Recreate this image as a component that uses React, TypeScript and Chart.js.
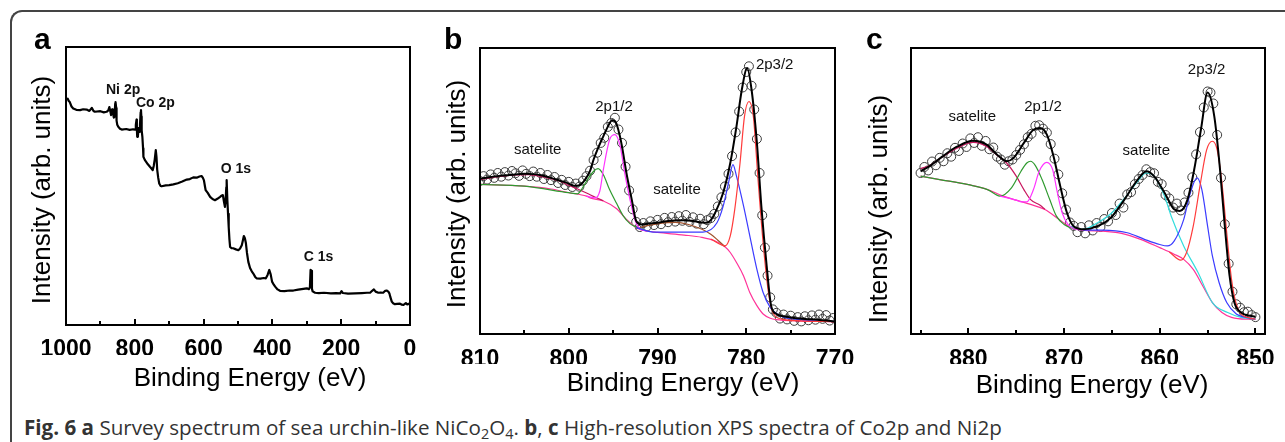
import React, { useEffect, useRef } from 'react';
import { Chart, registerables } from 'chart.js';

Chart.register(...registerables);

type Pt = [number, number];

// ---------------- Panel a : survey spectrum ----------------
const surveyMajorTicks = [1000, 800, 600, 400, 200, 0];
const surveyMinorTicks = [900, 700, 500, 300, 100];
const surveySpectrum: Pt[] = [
  [1000, 81.1], [995, 81.4], [992, 80.6], [989, 80.2], [984, 78.6], [979, 77.9], [970, 77.4], [959, 77.3],
  [950, 77.6], [940, 77.5], [932, 77.0], [925, 78.1], [920, 77.0], [916, 76.7], [900, 76.9], [890, 76.5],
  [882, 76.7], [877, 77.2], [874, 78.4], [871, 76.8], [869, 75.5], [866, 77.6], [864, 76.6], [861, 74.6],
  [859, 74.9], [857, 79.6], [856, 80.2], [854, 78.0], [853, 73.5], [851, 72.0], [848, 71.3], [843, 70.6],
  [838, 70.3], [825, 70.5], [815, 70.2], [805, 70.4], [799, 70.3], [797, 72.0], [795, 73.9], [794, 70.5],
  [793, 67.7], [791, 67.9], [789, 70.8], [787, 69.5], [785, 72.0], [783, 76.5], [782, 77.3], [781, 75.0],
  [780, 70.0], [778, 67.7], [776, 63.5], [775, 60.5], [771, 59.4], [767, 58.7], [762, 57.8], [756, 56.9],
  [751, 56.2], [748, 55.7], [745, 57.2], [742, 59.6], [739, 62.9], [737, 60.5], [735, 56.0], [732, 53.0],
  [729, 50.9], [725, 50.0], [722, 49.9], [710, 50.2], [700, 50.3], [688, 50.6], [675, 51.0], [662, 51.6],
  [649, 52.3], [640, 52.5], [630, 53.1], [620, 53.0], [612, 53.4], [606, 53.6], [602, 52.9], [599, 52.0],
  [596, 49.8], [594, 48.5], [588, 47.5], [581, 46.1], [574, 45.3], [567, 44.9], [560, 45.4], [552, 46.1],
  [547, 46.6], [544, 46.7], [541, 44.5], [538, 42.5], [536, 45.0], [534, 49.5], [533, 52.1], [531, 45.0],
  [529, 40.0], [527, 35.2], [525, 31.0], [523, 28.1], [518, 27.6], [514, 27.6], [506, 27.2], [499, 26.9],
  [494, 27.5], [489, 28.7], [486, 30.3], [483, 32.0], [480, 31.2], [477, 29.4], [474, 26.0], [470, 22.7],
  [465, 20.5], [460, 19.3], [456, 18.6], [450, 17.3], [446, 16.8], [435, 16.7], [425, 16.9], [419, 16.8],
  [414, 18.0], [409, 19.8], [405, 18.2], [401, 15.6], [396, 14.5], [392, 13.8], [385, 12.8], [378, 12.3],
  [365, 12.2], [350, 12.4], [339, 12.4], [325, 12.7], [310, 13.0], [300, 13.2], [294, 12.9], [291, 13.5],
  [289, 19.8], [287, 19.5], [285, 13.0], [283, 12.1], [276, 11.6], [265, 11.5], [250, 11.6], [230, 11.4],
  [215, 11.5], [203, 11.4], [199, 12.2], [195, 11.5], [180, 11.3], [160, 11.4], [140, 11.5], [125, 11.6],
  [116, 11.6], [110, 12.3], [105, 12.8], [100, 12.0], [92, 11.6], [85, 11.7], [78, 11.6], [72, 12.3],
  [68, 12.4], [63, 12.0], [60, 11.4], [57, 10.0], [53, 8.4], [49, 7.8], [44, 7.5], [38, 7.6], [29, 7.7],
  [24, 7.3], [19, 7.2], [15, 7.6], [12, 7.9], [8, 7.4], [4, 7.6], [0, 7.7],
];
const surveyNoteText = ['Ni 2p', 'Co 2p', 'O 1s', 'C 1s'];
const surveyNoteX = [834, 740, 506, 266];
const surveyNoteY = [84.4, 79.8, 55.9, 24.5];

// ---------------- Panel b : Co 2p ----------------
const coMajorTicks = [810, 800, 790, 780, 770];
const coMinorTicks = [805, 795, 785, 775];
const coData: Pt[] = [
  [810.0, 53.5], [809.6, 55.2], [809.2, 54.0], [808.8, 55.8], [808.4, 54.6], [808.0, 56.3], [807.6, 55.0],
  [807.2, 56.6], [806.8, 55.4], [806.4, 57.0], [806.0, 56.2], [805.6, 55.3], [805.2, 57.2], [804.8, 56.0],
  [804.4, 55.2], [804.0, 56.8], [803.6, 55.0], [803.2, 56.3], [802.8, 54.2], [802.4, 55.6], [802.0, 53.8],
  [801.6, 54.9], [801.2, 52.8], [800.8, 53.9], [800.4, 52.1], [800.0, 53.2], [799.6, 51.4], [799.2, 52.6],
  [798.8, 51.5], [798.4, 53.6], [798.0, 55.2], [797.6, 57.1], [797.2, 60.8], [796.8, 63.4], [796.4, 66.8],
  [796.0, 68.6], [795.6, 72.4], [795.2, 73.8], [794.8, 75.6], [794.4, 71.5], [794.0, 66.8], [793.6, 58.5],
  [793.2, 50.2], [792.8, 43.6], [792.4, 39.2], [792.0, 37.4], [791.6, 38.8], [791.2, 37.6], [790.8, 39.4],
  [790.4, 38.1], [790.0, 39.9], [789.6, 38.4], [789.2, 40.6], [788.8, 39.1], [788.4, 40.9], [788.0, 39.3],
  [787.6, 41.2], [787.2, 39.6], [786.8, 41.6], [786.4, 39.2], [786.0, 40.8], [785.6, 38.6], [785.2, 40.3],
  [784.8, 38.4], [784.4, 39.8], [784.0, 40.5], [783.6, 42.0], [783.2, 44.6], [782.8, 47.8], [782.4, 51.6],
  [782.0, 56.0], [781.6, 62.2], [781.2, 70.5], [780.8, 77.8], [780.4, 86.2], [780.0, 91.6], [779.7, 93.6],
  [779.4, 86.8], [779.1, 78.5], [778.8, 68.2], [778.5, 56.3], [778.2, 41.5], [777.9, 30.2], [777.6, 20.4],
  [777.3, 12.8], [777.0, 8.6], [776.6, 7.4], [776.2, 5.4], [775.8, 6.8], [775.4, 5.1], [775.0, 6.4],
  [774.6, 4.6], [774.2, 5.9], [773.8, 4.4], [773.4, 6.2], [773.0, 4.8], [772.6, 6.5], [772.2, 5.0],
  [771.8, 6.8], [771.4, 5.3], [771.0, 6.6], [770.6, 4.7], [770.2, 5.6],
];
const coEnvelope: Pt[] = [
  [810, 54.3], [809, 54.8], [808, 55.2], [807, 55.5], [806, 55.8], [805, 56.0], [804, 55.9], [803, 55.4],
  [802, 54.6], [801, 53.6], [800, 52.6], [799.4, 51.8], [798.8, 52.0], [798.2, 53.8], [797.6, 57.0],
  [797.2, 61.0], [796.7, 65.0], [796.2, 68.5], [795.6, 72.5], [795.1, 74.7], [794.7, 74.0], [794.3, 70.0],
  [794.0, 65.6], [793.5, 56.3], [792.9, 47.0], [792.4, 39.5], [791.8, 38.3], [791, 38.6], [790, 38.9],
  [789, 39.4], [788, 39.7], [787, 39.8], [786, 39.5], [785, 39.0], [784.5, 38.9], [784, 39.8], [783.5, 42.4],
  [782.6, 49.4], [781.8, 59.8], [781.1, 72.6], [780.5, 85.4], [779.9, 92.9], [779.4, 85.4], [778.8, 66.8],
  [778.3, 44.7], [777.7, 23.8], [777.2, 9.9], [776.6, 7.0], [776, 6.3], [775, 5.8], [774, 5.4], [773, 5.2],
  [772, 5.0], [771, 4.7], [770, 4.4],
];
const coBackground: Pt[] = [
  [810, 52.3], [807, 52.0], [805, 51.7], [802, 50.7], [800, 49.4], [798, 48.2], [797.6, 47.6], [796.1, 46.5],
  [794.6, 43.8], [793.5, 40.1], [792.4, 37.2], [791.2, 36.0], [790, 35.5], [787, 34.6], [785, 33.8],
  [783.5, 32.5], [782.4, 30.5], [781.8, 28.5], [781.1, 25.0], [780.3, 20.3], [779.6, 14.5], [778.8, 9.9],
  [778.1, 7.0], [777.3, 5.5], [776.6, 5.0], [774, 4.6], [770, 4.3],
];
const coSatLeft: Pt[] = [
  [810, 54.0], [808, 55.0], [806, 55.6], [804.5, 55.7], [803, 55.0], [801, 53.4], [800, 52.0], [799, 50.7],
  [798, 49.3], [797, 47.8], [796.1, 46.6],
];
const coPeak12a: Pt[] = [
  [810, 52.3], [805, 51.7], [800, 49.4], [799, 49.0], [798.7, 49.9], [798.0, 53.4], [797.2, 56.9],
  [796.7, 57.8], [796.1, 55.7], [795.4, 50.5], [794.6, 45.6], [793.9, 41.5], [793.1, 38.6], [792.4, 37.4],
  [791.2, 36.1],
];
const coPeak12b: Pt[] = [
  [798, 48.2], [797, 47.6], [796.5, 50.0], [796.1, 57.5], [795.4, 67.9], [794.8, 69.7], [794.2, 65.6],
  [793.7, 56.3], [793.1, 47.0], [792.5, 39.5], [792.0, 36.8], [791.2, 36.0],
];
const coSatMid: Pt[] = [
  [792.4, 36.8], [791, 38.0], [789.5, 38.8], [788, 39.0], [786.5, 38.3], [785.0, 36.6], [784.0, 34.9],
  [783.2, 32.8], [782.4, 30.5],
];
const coPeak32b: Pt[] = [
  [792.4, 37.2], [791, 35.9], [790, 35.6], [787, 35.6], [784.9, 35.6], [783.3, 38.9], [782.6, 44.7],
  [782.0, 52.8], [781.5, 59.2], [781.1, 55.2], [780.3, 44.7], [779.6, 34.3], [778.8, 22.6], [778.1, 14.5],
  [777.3, 9.3], [776.2, 6.4], [774, 5.0], [770, 4.4],
];
const coPeak32a: Pt[] = [
  [784, 33.2], [782.4, 30.8], [781.8, 34.3], [781.3, 43.5], [780.7, 59.8], [780.2, 76.1], [779.7, 81.3],
  [779.2, 76.1], [778.7, 55.2], [778.1, 31.9], [777.5, 14.5], [777.0, 7.5], [776, 5.2], [774, 4.6], [770, 4.3],
];
const coNoteText = ['satelite', '2p1/2', 'satelite', '2p3/2'];
const coNoteX = [803.5, 794.9, 787.8, 776.8];
const coNoteY = [64.5, 79.5, 50.5, 94.1];

// ---------------- Panel c : Ni 2p ----------------
const niMajorTicks = [880, 870, 860, 850];
const niMinorTicks = [885, 875, 865, 855];
const niData: Pt[] = [
  [885.0, 56.3], [884.6, 58.4], [884.2, 57.2], [883.8, 60.3], [883.4, 59.0], [883.0, 61.6], [882.6, 60.4],
  [882.2, 63.2], [881.8, 62.0], [881.4, 65.1], [881.0, 64.0], [880.6, 66.6], [880.2, 65.4], [879.8, 68.4],
  [879.4, 66.8], [879.0, 68.8], [878.6, 65.8], [878.2, 67.5], [877.8, 64.6], [877.4, 65.2], [877.0, 62.0],
  [876.6, 61.0], [876.2, 59.2], [875.8, 60.4], [875.4, 61.0], [875.0, 62.6], [874.6, 64.4], [874.2, 66.3],
  [873.8, 68.8], [873.4, 70.0], [873.0, 72.8], [872.6, 73.0], [872.2, 71.8], [871.8, 70.4], [871.4, 66.4],
  [871.0, 61.3], [870.6, 55.8], [870.2, 49.2], [869.8, 43.5], [869.4, 39.0], [869.0, 37.8], [868.6, 35.6],
  [868.2, 37.4], [867.8, 35.2], [867.4, 38.0], [867.0, 36.2], [866.6, 38.8], [866.2, 37.4], [865.8, 40.2],
  [865.4, 39.4], [865.0, 42.3], [864.6, 41.6], [864.2, 45.6], [863.8, 44.2], [863.4, 48.8], [863.0, 49.6],
  [862.6, 52.4], [862.2, 54.2], [861.8, 55.6], [861.4, 57.6], [861.0, 56.6], [860.6, 56.2], [860.2, 53.2],
  [859.8, 52.4], [859.4, 48.6], [859.0, 47.4], [858.6, 44.2], [858.2, 45.6], [857.8, 43.2], [857.4, 46.0],
  [857.0, 49.4], [856.6, 54.8], [856.2, 62.8], [855.8, 70.6], [855.4, 79.2], [855.0, 84.8], [854.7, 84.4],
  [854.4, 80.6], [854.0, 69.6], [853.6, 54.6], [853.2, 38.4], [852.8, 24.6], [852.4, 14.8], [852.0, 10.4],
  [851.6, 9.2], [851.2, 7.6], [850.8, 7.8], [850.4, 6.6], [850.0, 5.9],
];
const niEnvelope: Pt[] = [
  [885, 56.9], [884.1, 58.6], [882.7, 62.1], [881.25, 65.4], [879.5, 67.6], [878.1, 66.2], [877.0, 62.7],
  [876.0, 60.4], [875.3, 61.5], [874.2, 66.8], [873.2, 71.4], [872.5, 72.0], [871.8, 69.7], [871.1, 62.1],
  [870.4, 51.7], [869.7, 42.4], [869.0, 37.7], [867.9, 36.6], [866.5, 37.7], [865.1, 40.7], [863.7, 47.0],
  [862.3, 54.0], [861.4, 56.9], [860.6, 55.2], [859.5, 49.4], [858.5, 43.6], [857.9, 43.0], [857.1, 47.0],
  [856.4, 57.5], [855.7, 71.4], [855.0, 84.4], [854.3, 76.1], [853.7, 57.5], [853.2, 37.7], [852.7, 20.3],
  [852.2, 11.0], [851.5, 7.5], [850.4, 6.3], [850, 6.0],
];
const niBackground: Pt[] = [
  [885, 55.2], [883, 54.0], [880, 52.2], [878, 50.5], [876.5, 48.4], [875, 46.8], [873.5, 45.3], [872, 43.5],
  [870.5, 40.0], [869.5, 37.7], [868, 36.3], [866, 36.0], [864, 35.2], [862, 33.1], [860, 30.2], [858.5, 27.9],
  [857.5, 26.1], [856.5, 22.6], [855.5, 16.8], [854.5, 11.0], [853.5, 7.5], [852.5, 5.8], [851, 5.2], [850, 5.2],
];
const niSatLeft: Pt[] = [
  [885, 57.8], [884, 59.0], [882.7, 62.0], [881.2, 65.0], [879.5, 67.0], [878.1, 65.6], [877, 62.5],
  [876, 59.8], [875, 55.2], [874.2, 50.5], [873.5, 47.0], [872.5, 45.0], [872, 43.6],
];
const niPeak12a: Pt[] = [
  [885, 55.2], [883, 54.0], [880, 52.2], [878, 50.5], [876.7, 48.2], [875.5, 51.1], [874.5, 56.9],
  [873.9, 59.8], [873.5, 60.4], [873.0, 58.9], [872.3, 54.0], [871.5, 47.0], [870.8, 41.2], [870, 38.3],
  [869, 36.8], [868, 36.3],
];
const niPeak12b: Pt[] = [
  [876.7, 48.2], [875, 46.8], [874.6, 46.3], [873.9, 46.2], [873.2, 50.5], [872.6, 56.9], [871.8, 60.0],
  [871.2, 57.5], [870.7, 49.4], [870.2, 42.4], [869.6, 38.3], [869, 36.8], [868, 36.3],
];
const niSatMid: Pt[] = [
  [869.5, 37.7], [868, 36.6], [866.5, 38.9], [865, 42.4], [863.5, 48.2], [862.3, 53.4], [861.4, 56.3],
  [860.6, 55.2], [859.5, 48.2], [858.8, 41.2], [857.5, 30.8], [856, 21.5], [854.5, 11.0], [852.9, 7.5],
  [851.5, 5.8], [850, 5.2],
];
const niPeak32b: Pt[] = [
  [868, 36.3], [866, 36.3], [863.4, 35.4], [861.6, 33.1], [860, 31.3], [859.2, 30.8], [858.5, 32.5],
  [857.5, 40.0], [856.8, 49.4], [856.1, 54.6], [855.6, 50.5], [855.0, 37.7], [854.5, 27.3], [853.8, 18.0],
  [853, 11.0], [852, 7.0], [851, 5.8], [850, 5.2],
];
const niPeak32a: Pt[] = [
  [859, 28.7], [857.8, 25.8], [857.2, 28.5], [856.5, 37.7], [855.8, 51.7], [855.1, 64.4], [854.5, 67.4],
  [854.0, 64.4], [853.5, 52.8], [853.0, 35.4], [852.5, 19.1], [852.0, 10.4], [851.5, 7.0], [850.5, 5.5],
  [850, 5.2],
];
const niNoteText = ['satelite', '2p1/2', 'satelite', '2p3/2'];
const niNoteX = [879.6, 872.2, 861.4, 855.1];
const niNoteY = [75.8, 79.5, 63.9, 92.3];

// ---------------- helpers ----------------
const AXIS_FONT = '"Liberation Sans", Arial, Helvetica, sans-serif';

const toXY = (pts: Pt[]) => pts.map(([x, y]) => ({ x, y }));

const lineSet = (pts: Pt[], color: string, width = 1.2) => ({
  data: toXY(pts),
  borderColor: color,
  borderWidth: width,
  pointRadius: 0,
  fill: false,
  cubicInterpolationMode: 'monotone' as const,
});

const rawLine = (pts: Pt[]) => ({
  data: toXY(pts),
  borderColor: '#000',
  borderWidth: 2.2,
  pointRadius: 0,
  fill: false,
  tension: 0,
  borderJoinStyle: 'round' as const,
});

const circleSet = (pts: Pt[]) => ({
  data: toXY(pts),
  showLine: false,
  borderColor: '#3c3c3c',
  backgroundColor: 'rgba(0,0,0,0)',
  pointRadius: 4.5,
  pointBorderWidth: 1,
  pointBorderColor: '#3c3c3c',
  pointBackgroundColor: 'rgba(0,0,0,0)',
});

interface PanelSpec {
  width: number;
  height: number;
  padding: { left: number; right: number; top: number; bottom: number };
  xMin: number;
  xMax: number;
  major: number[];
  minor: number[];
  tickPad: number;
  datasets: any[];
  noteText: string[];
  noteX: number[];
  noteY: number[];
  noteFont: string;
}

function frame(spec: PanelSpec) {
  return {
    id: 'frame',
    afterDraw(chart: any) {
      const { ctx, chartArea: a, scales } = chart;
      const xs = scales.x;
      const ys = scales.y;
      ctx.save();
      ctx.fillStyle = '#111';
      ctx.font = spec.noteFont;
      ctx.textAlign = 'center';
      ctx.textBaseline = 'middle';
      spec.noteText.forEach((t, i) => {
        ctx.fillText(t, xs.getPixelForValue(spec.noteX[i]), ys.getPixelForValue(spec.noteY[i]));
      });
      ctx.strokeStyle = '#000';
      ctx.lineWidth = 2;
      ctx.strokeRect(a.left, a.top, a.right - a.left, a.bottom - a.top);
      ctx.lineWidth = 2;
      ctx.beginPath();
      spec.major.forEach((v) => {
        const x = Math.round(xs.getPixelForValue(v));
        ctx.moveTo(x, a.bottom);
        ctx.lineTo(x, a.bottom - 6);
      });
      spec.minor.forEach((v) => {
        const x = Math.round(xs.getPixelForValue(v));
        ctx.moveTo(x, a.bottom);
        ctx.lineTo(x, a.bottom - 4);
      });
      ctx.stroke();
      ctx.restore();
    },
  };
}

function Panel({ spec, left }: { spec: PanelSpec; left: number }) {
  const ref = useRef<HTMLCanvasElement | null>(null);
  useEffect(() => {
    if (!ref.current) return;
    const chart = new Chart(ref.current, {
      type: 'line',
      data: { datasets: spec.datasets },
      options: {
        responsive: false,
        animation: false,
        events: [],
        layout: { padding: spec.padding },
        plugins: { legend: { display: false }, tooltip: { enabled: false } },
        scales: {
          x: {
            type: 'linear',
            min: spec.xMin,
            max: spec.xMax,
            reverse: true,
            afterBuildTicks: (s: any) => {
              s.ticks = spec.major.map((v) => ({ value: v }));
            },
            afterFit: (s: any) => {
              s.height = 30;
            },
            grid: { display: false },
            border: { display: false },
            ticks: {
              color: '#000',
              padding: spec.tickPad,
              autoSkip: false,
              maxRotation: 0,
              font: { family: AXIS_FONT, size: 23, weight: 'bold' },
              callback: (v: any) => String(v),
            },
          },
          y: { type: 'linear', min: 0, max: 100, display: false },
        },
      } as any,
      plugins: [frame(spec)],
    });
    return () => chart.destroy();
  }, [spec]);
  return (
    <canvas
      ref={ref}
      width={spec.width}
      height={spec.height}
      style={{ position: 'absolute', left, top: 0, width: spec.width, height: spec.height }}
    />
  );
}

const specA: PanelSpec = {
  width: 440,
  height: 400,
  padding: { left: 66, right: 30, top: 47, bottom: 45 },
  xMin: 0,
  xMax: 1000,
  major: surveyMajorTicks,
  minor: surveyMinorTicks,
  tickPad: 3,
  datasets: [rawLine(surveySpectrum)],
  noteText: surveyNoteText,
  noteX: surveyNoteX,
  noteY: surveyNoteY,
  noteFont: `bold 14px ${AXIS_FONT}`,
};

const specB: PanelSpec = {
  width: 430,
  height: 400,
  padding: { left: 40, right: 35, top: 48, bottom: 36 },
  xMin: 770,
  xMax: 810,
  major: coMajorTicks,
  minor: coMinorTicks,
  tickPad: 4,
  datasets: [
    lineSet(coEnvelope, '#000', 2),
    lineSet(coPeak32a, '#ff3b3b'),
    lineSet(coPeak32b, '#3b3bff'),
    lineSet(coPeak12b, '#ff33ff'),
    lineSet(coPeak12a, '#2f9a2f'),
    lineSet(coSatMid, '#a0522d'),
    lineSet(coSatLeft, '#c8175f'),
    lineSet(coBackground, '#ff3399'),
    circleSet(coData),
  ],
  noteText: coNoteText,
  noteX: coNoteX,
  noteY: coNoteY,
  noteFont: `500 15px ${AXIS_FONT}`,
};

const specC: PanelSpec = {
  width: 415,
  height: 400,
  padding: { left: 41, right: 20, top: 48, bottom: 36 },
  xMin: 849,
  xMax: 886,
  major: niMajorTicks,
  minor: niMinorTicks,
  tickPad: 4,
  datasets: [
    lineSet(niEnvelope, '#000', 2),
    lineSet(niPeak32a, '#ff3b3b'),
    lineSet(niPeak32b, '#3b3bff'),
    lineSet(niPeak12b, '#ff33ff'),
    lineSet(niPeak12a, '#2f9a2f'),
    lineSet(niSatMid, '#33dddd'),
    lineSet(niSatLeft, '#c8175f'),
    lineSet(niBackground, '#ff3399'),
    circleSet(niData),
  ],
  noteText: niNoteText,
  noteX: niNoteX,
  noteY: niNoteY,
  noteFont: `500 15px ${AXIS_FONT}`,
};

const yTitleStyle = (cx: number, cy: number): React.CSSProperties => ({
  position: 'absolute',
  left: cx,
  top: cy,
  transform: 'translate(-50%, -50%) rotate(-90deg)',
  whiteSpace: 'nowrap',
  fontFamily: AXIS_FONT,
  fontSize: 26,
  lineHeight: '26px',
  color: '#000',
});

const xTitleStyle = (cx: number, top: number): React.CSSProperties => ({
  position: 'absolute',
  left: cx,
  top,
  transform: 'translateX(-50%)',
  whiteSpace: 'nowrap',
  fontFamily: AXIS_FONT,
  fontSize: 26,
  lineHeight: '26px',
  color: '#000',
});

const letterStyle = (left: number): React.CSSProperties => ({
  position: 'absolute',
  left,
  top: 24,
  fontFamily: AXIS_FONT,
  fontWeight: 'bold',
  fontSize: 30,
  lineHeight: '30px',
  color: '#000',
});

const subStyle: React.CSSProperties = { fontSize: '0.7em', lineHeight: 0, verticalAlign: '-0.25em' };

export default function App() {
  return (
    <div
      style={{
        position: 'absolute',
        left: 0,
        top: 0,
        width: 1285,
        height: 442,
        overflow: 'hidden',
        background: '#fff',
      }}
    >
      <div
        style={{
          position: 'absolute',
          left: 10,
          top: 10,
          width: 1300,
          height: 460,
          borderLeft: '2px solid #444',
          borderTop: '2px solid #444',
          borderTopLeftRadius: 12,
          boxSizing: 'border-box',
        }}
      />
      <Panel spec={specA} left={0} />
      <Panel spec={specB} left={440} />
      <Panel spec={specC} left={870} />

      <div style={letterStyle(34)}>a</div>
      <div style={letterStyle(444)}>b</div>
      <div style={letterStyle(866)}>c</div>

      <div style={yTitleStyle(41, 190)}>Intensity (arb. units)</div>
      <div style={yTitleStyle(456, 194)}>Intensity (arb. units)</div>
      <div style={yTitleStyle(878, 209)}>Intensity (arb. units)</div>

      <div style={xTitleStyle(250, 364)}>Binding Energy (eV)</div>
      <div style={xTitleStyle(683, 369)}>Binding Energy (eV)</div>
      <div style={xTitleStyle(1092, 371)}>Binding Energy (eV)</div>

      <div
        style={{
          position: 'absolute',
          left: 24,
          top: 415,
          whiteSpace: 'nowrap',
          fontFamily: '"Open Sans", "Noto Sans", sans-serif',
          fontSize: 20.6,
          lineHeight: '24px',
          color: '#333',
        }}
      >
        <b>Fig. 6</b> <b>a</b> Survey spectrum of sea urchin-like NiCo
        <sub style={subStyle}>2</sub>O
        <sub style={subStyle}>4</sub>. <b>b</b>, <b>c</b> High-resolution XPS spectra of Co2p and Ni2p
      </div>
    </div>
  );
}
